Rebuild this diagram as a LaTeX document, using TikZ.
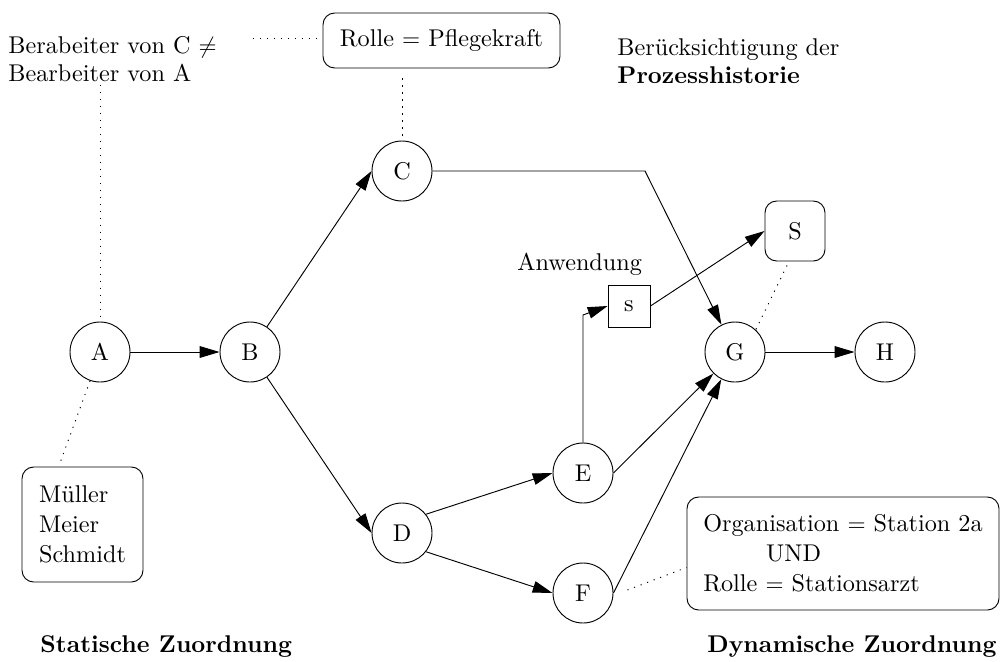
\documentclass[tikz,border=0pt]{standalone}
\usepackage{fontspec}
\usetikzlibrary{arrows.meta}
\newdimen\pxu \pxu=0.01509cm
\begin{document}
\begin{tikzpicture}[x=0.01509cm, y=-0.01509cm,
  font=\fontsize{10.4}{12}\selectfont,
  state/.style={circle, draw, minimum size=60\pxu, inner sep=0pt},
  flow/.style={-{Triangle[length=8.5pt,width=5pt]}},
  link/.style={dash pattern=on 0.5pt off 2.5pt},
  rbox/.style={draw, rounded corners=5pt, inner sep=0pt},
  lbl/.style={inner sep=0pt, align=left}]
\useasboundingbox (0,0) rectangle (1002,662);

% process nodes
\node[state] (A) at (100,352) {A};
\node[state] (B) at (250,352) {B};
\node[state] (C) at (402,171) {C};
\node[state] (D) at (402,533) {D};
\node[state] (E) at (583,473) {E};
\node[state] (F) at (583,593) {F};
\node[state] (G) at (735,352) {G};
\node[state] (H) at (885,352) {H};
\node[draw, minimum size=42\pxu, inner sep=0pt] (s) at (629,306) {s};
\node[rbox, minimum size=60\pxu] (S) at (795,231) {S};

% annotation boxes
\node[rbox, minimum width=237\pxu, minimum height=55\pxu] (R) at (441.5,40.5) {Rolle $=$ Pflegekraft};
\node[rbox, minimum width=121\pxu, minimum height=115\pxu, align=left] (M) at (82.5,524.5) {Müller\\[0.9pt]Meier\\[0.9pt]Schmidt};
\node[rbox, minimum width=312\pxu, minimum height=113\pxu, align=left] (O) at (843,553.5) {Organisation $=$ Station 2a\\[0.9pt]\hspace*{27pt}UND\\[0.9pt]Rolle $=$ Stationsarzt};

% free texts
\node[lbl, anchor=north west] (t1) at (8,36) {Berabeiter von C $\neq$\\Bearbeiter von A};
\node[lbl, anchor=north west] (t2) at (617,38) {Berücksichtigung der\\\textbf{Prozesshistorie}};
\node[lbl, anchor=base west] (anw) at (517,270) {Anwendung};
\node[lbl, anchor=base west] (stat) at (40,652) {\textbf{Statische Zuordnung}};
\node[lbl, anchor=base east] (dyn) at (997,652) {\textbf{Dynamische Zuordnung}};

% helper coordinates
\coordinate (cg) at (645,171);
\coordinate (es) at (583,315);
\coordinate (d1) at (253,38);
\coordinate (d2) at (100,85);

% flow arrows
\draw[flow] (A) -- (B);
\draw[flow] (B) -- (C.west);
\draw[flow] (B) -- (D.west);
\draw[flow] (C.east) -- (cg) -- (G);
\draw[flow] (D.38) -- (E.west);
\draw[flow] (D.-38) -- (F.west);
\draw[flow] (E.north) -- (es) -- (s.west);
\draw[flow] (s.east) -- (S.west);
\draw[flow] (E.east) -- (G);
\draw[flow] (F.east) -- (G);
\draw[flow] (G) -- (H);

% dotted associations
\draw[link] (d1) -- (R.west |- d1);
\draw[link] (d2) -- (A.north);
\draw[link, shorten <=10\pxu] (C.north |- R.south) -- (C.north);
\draw[link] (A.-109) -- ([xshift=-22\pxu,yshift=5\pxu]M.north);
\draw[link] ([xshift=-8\pxu,yshift=-4\pxu]S.south) -- (G.47);
\draw[link] ([xshift=14\pxu,yshift=3\pxu]F.east) -- ([yshift=-14\pxu]O.west);
\end{tikzpicture}
\end{document}
